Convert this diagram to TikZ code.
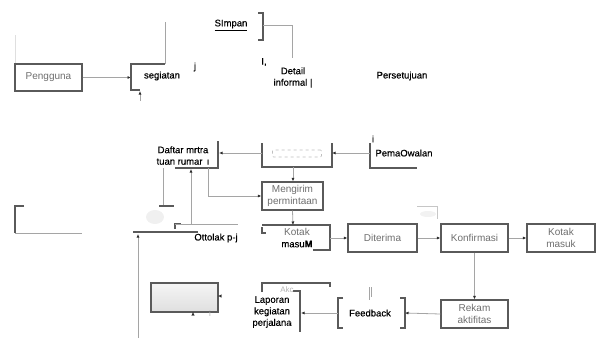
\documentclass[tikz,border=0pt]{standalone}
\usepackage{fontspec}
\setmainfont{Liberation Sans}
\newfontfamily\boldish[FakeBold=0.4]{Liberation Sans}
\usetikzlibrary{arrows.meta}
\definecolor{boxc}{RGB}{90,90,90}
\definecolor{linec}{RGB}{165,165,165}
\definecolor{txtg}{RGB}{110,110,110}
\definecolor{headc}{RGB}{45,45,45}
\begin{document}
\begin{tikzpicture}[x=1pt,y=-1pt,
  box/.style={draw=boxc,line width=1.2pt,inner sep=0pt,text=txtg,font=\fontsize{10}{12}\selectfont,align=center},
  lbl/.style={inner sep=0pt,text=black,font=\boldish\fontsize{9.5}{11.5}\selectfont,align=center},
  faint/.style={inner sep=0pt,text=gray!60,font=\fontsize{8}{10}\selectfont},
  conn/.style={draw=linec,line width=0.8pt,-{Latex[length=3.5pt,width=3pt,color=headc]}},
  plainline/.style={draw=linec,line width=0.8pt},
  wall/.style={draw=boxc,line width=1.2pt}]
\useasboundingbox (0,0) rectangle (597,338);

% ---------- top row ----------
\draw[draw=gray!25,line width=0.6pt] (15,35) -- (15,64);
\node[box,minimum width=67pt,minimum height=27pt] (peng) at (48.5,77.5) {Pengguna};
\coordinate (segin) at (131,77.5);
\draw[conn] (peng.east) -- (segin);
\draw[wall] (140,90) -- (131,90) -- (131,64) -- (165,64);
\draw[plainline] (165,64) -- (165,22);
\coordinate (segbot) at (140,91);
\coordinate (segfrom) at (140,101);
\draw[conn] (segfrom) -- (segbot);
\node[lbl] (segiatan) at (162,76) {segiatan};
\node[lbl] (j1) at (195,67) {j};

\node[lbl] (simpan) at (231,25) {\underline{SImpan}};
\draw[wall] (258,13) -- (263,13) -- (263,40) -- (258,40);
\coordinate (simpanr) at (263,25);
\coordinate (detailtop) at (292,58);
\draw[plainline] (simpanr) -- (292,25) -- (detailtop);
\node[lbl] (icomma) at (264,62) {I,};
\node[lbl] (detail) at (293,77.5) {Detail\\informal |};
\node[lbl] (persetujuan) at (402,76) {Persetujuan};

% ---------- middle ----------
\draw[wall] (262,143) -- (262,167) -- (332,167) -- (332,143);
\node[draw=gray!50,dashed,line width=0.6pt,rounded corners=1pt,minimum width=49pt,minimum height=7pt,inner sep=0pt] (topbox) at (297,153.5) {};
\coordinate (tbl) at (262,153);
\coordinate (tbr) at (332,153);
\coordinate (tbb) at (293,167);

\draw[wall] (370,143) -- (370,168) -- (417,168);
\node[lbl] (pi) at (373,139) {i};
\node[lbl] (pema) at (404,153) {PemaOwalan};
\coordinate (pemal) at (370,153);
\draw[conn] (pemal) -- (tbr);

\draw[wall] (218,141) -- (218,168) -- (175,168);
\node[lbl] (daftar) at (183,155.5) {Daftar mrtra\\tuan rumar \,ı};
\coordinate (dafr) at (219,153);
\draw[conn] (tbl) -- (dafr);

\node[box,minimum width=61pt,minimum height=28pt] (mengirim) at (292.5,196) {Mengirim\\permintaan};
\draw[conn] (tbb) -- (tbb |- mengirim.north);
\coordinate (dafb) at (208,168);
\draw[conn] (dafb) |- (mengirim.west);

\coordinate (dafb2) at (191,169);
\coordinate (hjoin) at (191,224);
\draw[conn] (hjoin) -- (dafb2);
\draw[wall] (175,229) -- (175,224) -- (181,224);
\draw[plainline] (175,224) -- (238,224);
\draw[plainline] (163,168) -- (163,206);
\draw[wall] (159,206) -- (174,206);
\fill[gray!12] (155,217) ellipse (9 and 7);

\draw[wall] (24,206) -- (15,206) -- (15,233);
\draw[plainline] (15,233) -- (82,233);
\draw[wall] (133,232) -- (198,232);
\coordinate (vbot) at (138,338);
\coordinate (vtop) at (138,234);
\draw[conn] (vbot) -- (vtop);
\node[lbl] (ottolak) at (216,238) {Ottolak p-j};

\draw[wall] (262,225) -- (330,225) -- (330,250) -- (313,250);
\draw[wall] (262,227) -- (262,233) -- (266,233);
\node[inner sep=0pt,text=txtg,font=\fontsize{10}{12}\selectfont] (kotak1) at (297,232) {Kotak};
\node[lbl] (masum) at (297,244) {masu\textbf{M}};
\draw[conn] (mengirim.south) -- (293,225);
\coordinate (kotakr) at (330,238);

\node[box,minimum width=69pt,minimum height=28pt] (diterima) at (382.5,238) {Diterima};
\node[box,minimum width=67pt,minimum height=28pt] (konf) at (474.5,238) {Konfirmasi};
\node[box,minimum width=68pt,minimum height=28pt] (kmasuk) at (561,238) {Kotak\\masuk};
\draw[conn] (kotakr) -- (diterima.west);
\draw[conn] (diterima.east) -- (konf.west);
\draw[conn] (konf.east) -- (kmasuk.west);
\draw[draw=gray!45,line width=0.8pt] (417,206) -- (437,206) -- (437,219);
\fill[gray!10] (428,214) ellipse (8 and 3);

% bottom
\node[box,minimum width=67pt,minimum height=28pt] (rekam) at (474.5,314) {Rekam\\aktifitas};
\draw[conn] (konf.south) -- (rekam.north);

\draw[wall] (343,298) -- (338,298) -- (338,328) -- (343,328);
\draw[wall] (400,298) -- (405,298) -- (405,328) -- (400,328);
\draw[plainline] (369,287) -- (369,300);
\draw[plainline] (371,287) -- (371,297);
\node[lbl] (feedback) at (370,313) {Feedback};
\coordinate (fbr) at (405,313);
\coordinate (fbl) at (338,313);
\draw[conn] (rekam.west) -- (fbr);
\coordinate (lapr) at (301,313);
\draw[conn] (fbl) -- (lapr);

\draw[wall] (293,291) -- (300,291) -- (300,332);
\draw[wall] (262,292) -- (262,283) -- (330,283) -- (330,287);
\node[faint] (akc) at (287,290) {Akc};
\node[lbl] (laporan) at (272,312) {Laporan\\kegiatan\\perjalana};
\node[faint] (nn) at (290,324) {n};

\node[draw=boxc,line width=1.2pt,minimum width=67pt,minimum height=29pt,inner sep=0pt,
  top color=gray!8,bottom color=gray!25] (blur) at (184.5,297.5) {};
\coordinate (blurr) at (218,296);
\coordinate (blurrfrom) at (225,296);
\draw[-{Latex[length=3.5pt,width=3pt,color=headc]},draw=white,line width=0.1pt] (blurrfrom) -- (blurr);
\coordinate (blurb) at (193,312);
\coordinate (blurbfrom) at (193,316);
\draw[-{Latex[length=3.5pt,width=3pt,color=headc]},draw=white,line width=0.1pt] (blurbfrom) -- (blurb);
\node[faint] (ii) at (210,314) {i};
\end{tikzpicture}
\end{document}
